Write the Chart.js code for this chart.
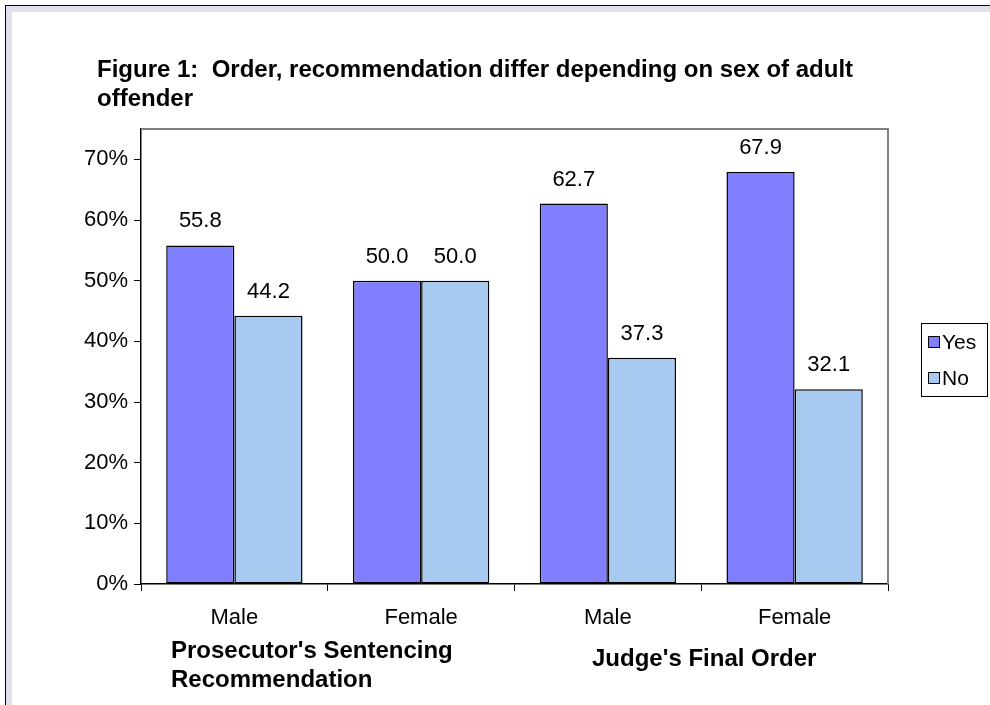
<!DOCTYPE html>
<html>
<head>
<meta charset="utf-8">
<script src="https://cdn.jsdelivr.net/npm/chart.js@4"></script>
<style>
  html, body { margin: 0; padding: 0; background: #fff; }
  #wrap { width: 990px; height: 705px; position: relative; }
</style>
</head>
<body>
<div id="wrap"><canvas id="chart" width="990" height="705"></canvas></div>
<script>
// chart data
const categories = ["Male", "Female", "Male", "Female"];
const yesValues = [55.8, 50.0, 62.7, 67.9];
const noValues = [44.2, 50.0, 37.3, 32.1];
const groupLabels = [["Prosecutor's Sentencing", "Recommendation"], ["Judge's Final Order"]];
const titleLines = ["Figure 1:  Order, recommendation differ depending on sex of adult", "offender"];

const FONT = "'Liberation Sans', Arial, sans-serif";

// frame, title, plot border, value labels, legend, group labels
const decorations = {
  id: "decorations",
  beforeDraw(chart) {
    const ctx = chart.ctx;
    ctx.save();
    ctx.fillStyle = "#fff";
    ctx.fillRect(0, 0, chart.width, chart.height);
    // window-like frame
    ctx.fillStyle = "#000";
    ctx.fillRect(5, 5, chart.width - 5, 1);
    ctx.fillRect(5, 5, 1, chart.height - 5);
    ctx.fillStyle = "#e0e0ea";
    ctx.fillRect(6, 6, chart.width - 6, 6);
    ctx.fillRect(6, 6, 6, chart.height - 6);
    ctx.restore();
  },
  beforeDatasetsDraw(chart) {
    const ctx = chart.ctx;
    const a = chart.chartArea;
    ctx.save();
    ctx.strokeStyle = "#808080";
    ctx.lineWidth = 2;
    ctx.beginPath();
    ctx.moveTo(a.left, a.top);
    ctx.lineTo(a.right, a.top);
    ctx.lineTo(a.right, a.bottom);
    ctx.stroke();
    ctx.restore();
  },
  afterDatasetsDraw(chart) {
    const ctx = chart.ctx;
    ctx.save();
    ctx.fillStyle = "#000";
    ctx.font = "22px " + FONT;
    ctx.textAlign = "center";
    ctx.textBaseline = "alphabetic";
    chart.data.datasets.forEach((ds, i) => {
      chart.getDatasetMeta(i).data.forEach((bar, j) => {
        ctx.fillText(ds.data[j].toFixed(1), bar.x, bar.y - 18);
      });
    });

    // title
    ctx.textAlign = "left";
    ctx.font = "bold 24px " + FONT;
    ctx.fillText(titleLines[0], 97, 77);
    ctx.fillText(titleLines[1], 97, 106);

    // group labels under the axis
    ctx.font = "bold 24px " + FONT;
    ctx.fillText(groupLabels[0][0], 171, 658);
    ctx.fillText(groupLabels[0][1], 171, 687);
    ctx.fillText(groupLabels[1][0], 592, 666);

    // legend
    const lx = 921, ly = 323, lw = 66, lh = 73;
    ctx.strokeStyle = "#000";
    ctx.lineWidth = 1;
    ctx.strokeRect(lx + 0.5, ly + 0.5, lw, lh);
    ctx.textAlign = "left";
    ctx.textBaseline = "middle";
    ctx.font = "21px " + FONT;
    chart.data.datasets.forEach((ds, i) => {
      const cy = ly + 19 + i * 36;
      ctx.fillStyle = ds.backgroundColor;
      ctx.fillRect(lx + 7, cy - 6, 12, 12);
      ctx.strokeRect(lx + 7.5, cy - 5.5, 11, 11);
      ctx.fillStyle = "#000";
      ctx.fillText(ds.label, lx + 21, cy + 1);
    });
    ctx.restore();
  }
};

const ctx = document.getElementById("chart").getContext("2d");
const chart = new Chart(ctx, {
  type: "bar",
  data: {
    labels: categories,
    datasets: [
      {
        label: "Yes",
        data: yesValues,
        backgroundColor: "#8080FF",
        borderColor: "#000",
        borderWidth: 1.5,
        borderSkipped: false,
      },
      {
        label: "No",
        data: noValues,
        backgroundColor: "#A6CAF0",
        borderColor: "#000",
        borderWidth: 1.5,
        borderSkipped: false,
      },
    ],
  },
  options: {
    responsive: false,
    animation: false,
    events: [],
    layout: {
      padding: { left: 0, top: 129, right: 102, bottom: 0 },
    },
    categoryPercentage: 0.73,
    barPercentage: 1.0,
    plugins: {
      legend: { display: false },
      tooltip: { enabled: false },
    },
    scales: {
      x: {
        afterFit(scale) {
          scale.height = 121;
        },
        grid: {
          offset: true,
          drawOnChartArea: false,
          drawTicks: true,
          tickLength: 7,
          color: "#000",
        },
        border: { color: "#000", width: 1.5 },
        ticks: {
          color: "#000",
          padding: 14,
          font: { family: FONT, size: 22 },
        },
      },
      y: {
        min: 0,
        max: 75,
        afterFit(scale) {
          scale.width = 141;
        },
        afterBuildTicks(scale) {
          scale.ticks = scale.ticks.filter((t) => t.value % 10 === 0);
        },
        grid: {
          drawOnChartArea: false,
          drawTicks: true,
          tickLength: 7,
          color: "#000",
        },
        border: { color: "#000", width: 1.5 },
        ticks: {
          stepSize: 10,
          color: "#000",
          padding: 6,
          font: { family: FONT, size: 22 },
          callback: (v) => v + "%",
        },
      },
    },
  },
  plugins: [decorations],
});
</script>
</body>
</html>
